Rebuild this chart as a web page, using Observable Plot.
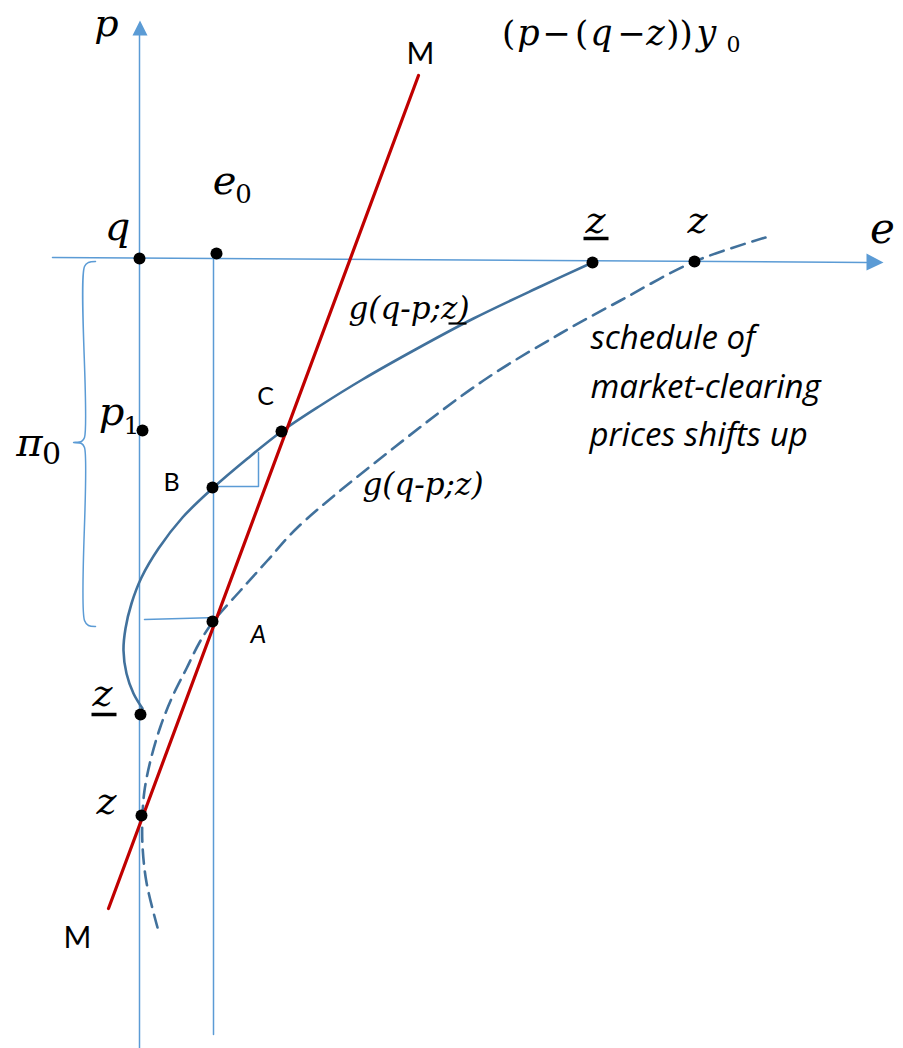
<!DOCTYPE html>
<html>
<head>
<meta charset="utf-8">
<script src="https://cdn.jsdelivr.net/npm/d3@7"></script>
<script src="https://cdn.jsdelivr.net/npm/@observablehq/plot@0.6"></script>
<style>
  body { margin: 0; background: #fff; }
</style>
</head>
<body>
<div id="chart"></div>
<script>
// Diagram space: e grows to the right, p grows down the page (screen-like units).

// Axes (p axis vertical, e axis horizontal) and the e0 guide
const pAxis = [{x: 139, y: 1048}, {x: 139, y: 35}];
const eAxis = [{x: 52, y: 257}, {x: 866, y: 262}];
const e0Guide = [{x: 213, y: 253}, {x: 213, y: 1034}];
const arrowHeads = [
  {id: "p", x: 139.5, y: 20}, {id: "p", x: 132, y: 35}, {id: "p", x: 147, y: 35},
  {id: "e", x: 883, y: 262}, {id: "e", x: 866, y: 253}, {id: "e", x: 866, y: 270}
];

// Market line M–M
const lineM = [{x: 108, y: 908}, {x: 418, y: 75}];

// Schedule g(q-p; z underlined): solid
const scheduleLow = [
  [592, 262], [540, 286], [473, 318], [415, 349], [362, 379], [320, 405],
  [281, 431], [247, 458], [213, 487], [182, 517], [158, 548], [141, 577],
  [131, 603], [125, 628], [123, 650], [126, 673], [133, 693], [142, 708]
];

// Schedule g(q-p; z): dashed
const scheduleHigh = [
  [765, 237], [694, 261], [620, 300], [560, 333], [483, 380], [395, 446],
  [297, 527], [267, 560], [240, 590], [212, 622], [199, 642], [186, 668],
  [172, 696], [160, 726], [150, 760], [144, 790], [142, 815], [142, 845],
  [146, 882], [157, 927]
];

// Thin guides: step from B, level of A, brace for π0
const stepB = [[213, 486], [258, 486], [258, 452]];
const levelA = [[144, 619], [217, 617]];
const brace = [
  [95, 261], [88, 262], [84, 266], [84, 437], [81, 441], [73, 442],
  [81, 443], [84, 447], [84, 620], [88, 625], [95, 626]
];

// Marked points
const points = [
  {name: "q", x: 139, y: 258}, {name: "e0", x: 216, y: 253},
  {name: "z_low", x: 592, y: 262}, {name: "z_high", x: 694, y: 261},
  {name: "p1", x: 142, y: 430}, {name: "C", x: 281, y: 431},
  {name: "B", x: 212, y: 487}, {name: "A", x: 212, y: 621},
  {name: "z_low_p", x: 140, y: 714}, {name: "z_high_p", x: 141, y: 815}
];

// Italic math symbols
const mathSymbols = [
  {t: "p", x: 106, y: 35, fs: 38},
  {t: "q", x: 117, y: 239, fs: 40},
  {t: "e", x: 224, y: 193, fs: 40},
  {t: "e", x: 882, y: 242, fs: 42},
  {t: "z", x: 595, y: 232, fs: 38},
  {t: "z", x: 697, y: 232, fs: 38},
  {t: "p", x: 111, y: 424, fs: 40},
  {t: "π", x: 29, y: 455, fs: 40},
  {t: "z", x: 102, y: 705, fs: 38},
  {t: "z", x: 106, y: 813, fs: 38}
];
// Upright subscripts
const subscripts = [
  {t: "0", x: 243, y: 202, fs: 26},
  {t: "1", x: 131, y: 433, fs: 25},
  {t: "0", x: 51, y: 463, fs: 30},
  {t: "0", x: 733, y: 51, fs: 22}
];
// Formula (p − (q − z))y0, set piece by piece
const formulaItalic = [
  {t: "p", x: 528}, {t: "q", x: 601}, {t: "z", x: 655}, {t: "y", x: 706}
];
const formulaUpright = [
  {t: "(", x: 508}, {t: "−", x: 556}, {t: "(", x: 581}, {t: "−", x: 631}, {t: "))", x: 679}
];
const formulaBaseline = 44;

// Schedule names
const gLabels = [
  {t: "g(q-p;z)", x: 348, y: 318},
  {t: "g(q-p;z)", x: 362, y: 494}
];
// Underlines under z
const underlines = [
  {x1: 583, x2: 608, y: 238, w: 3.5},
  {x1: 91, x2: 116, y: 714, w: 3.5},
  {x1: 448, x2: 466, y: 323, w: 2.2}
];
// Point and line names
const upright = [
  {t: "M", x: 420, y: 63, fs: 30},
  {t: "M", x: 77, y: 947, fs: 30},
  {t: "C", x: 265, y: 404, fs: 25},
  {t: "B", x: 171, y: 490, fs: 25}
];
const slanted = [{t: "A", x: 258, y: 642, fs: 25}];
const note = [
  {t: "schedule of", x: 590, y: 348},
  {t: "market-clearing", x: 590, y: 397},
  {t: "prices shifts up", x: 589, y: 445}
];

const toXY = (arr) => arr.map(([x, y]) => ({x, y}));
const AX = "#5B9BD5";
const CURVE = "#41719C";
const RED = "#C00000";
const SERIF = "DejaVu Serif";
const SANS = "Lato";
const NOTE = "Open Sans";

const chart = Plot.plot({
  width: 903,
  height: 1048,
  margin: 0,
  x: {domain: [0, 903], range: [0, 903], axis: null},
  y: {domain: [0, 1048], range: [0, 1048], axis: null},
  style: {background: "#fff"},
  marks: [
    Plot.line(pAxis, {x: "x", y: "y", stroke: AX, strokeWidth: 1.5}),
    Plot.line(eAxis, {x: "x", y: "y", stroke: AX, strokeWidth: 1.5}),
    Plot.line(e0Guide, {x: "x", y: "y", stroke: AX, strokeWidth: 1.5}),
    Plot.line(arrowHeads, {x: "x", y: "y", z: "id", fill: AX, stroke: "none"}),
    Plot.line(toXY(stepB), {x: "x", y: "y", stroke: AX, strokeWidth: 1.5}),
    Plot.line(toXY(levelA), {x: "x", y: "y", stroke: AX, strokeWidth: 1.5}),
    Plot.line(toXY(brace), {x: "x", y: "y", stroke: AX, strokeWidth: 1.5, curve: "catmull-rom"}),
    Plot.line(toXY(scheduleHigh), {x: "x", y: "y", stroke: CURVE, strokeWidth: 2.6, strokeDasharray: "14 8", curve: "catmull-rom"}),
    Plot.line(toXY(scheduleLow), {x: "x", y: "y", stroke: CURVE, strokeWidth: 2.6, curve: "catmull-rom"}),
    Plot.line(lineM, {x: "x", y: "y", stroke: RED, strokeWidth: 3.2}),
    Plot.dot(points, {x: "x", y: "y", r: 6, fill: "black", stroke: "none"}),
    Plot.link(underlines, {x1: "x1", x2: "x2", y1: "y", y2: "y", stroke: "black", strokeWidth: "w"}),
    Plot.text(mathSymbols, {x: "x", y: "y", text: "t", fontSize: "fs", fontFamily: SERIF, fontStyle: "italic", textAnchor: "middle", lineAnchor: "bottom", fill: "black"}),
    Plot.text(subscripts, {x: "x", y: "y", text: "t", fontSize: "fs", fontFamily: SERIF, textAnchor: "middle", lineAnchor: "bottom", fill: "black"}),
    Plot.text(formulaItalic, {x: "x", y: () => formulaBaseline, text: "t", fontSize: 35, fontFamily: SERIF, fontStyle: "italic", textAnchor: "middle", lineAnchor: "bottom", fill: "black"}),
    Plot.text(formulaUpright, {x: "x", y: () => formulaBaseline, text: "t", fontSize: 34, fontFamily: SERIF, textAnchor: "middle", lineAnchor: "bottom", fill: "black"}),
    Plot.text(gLabels, {x: "x", y: "y", text: "t", fontSize: 31, fontFamily: SERIF, fontStyle: "italic", textAnchor: "start", lineAnchor: "bottom", fill: "black"}),
    Plot.text(upright, {x: "x", y: "y", text: "t", fontSize: "fs", fontFamily: SANS, textAnchor: "middle", lineAnchor: "bottom", fill: "black"}),
    Plot.text(slanted, {x: "x", y: "y", text: "t", fontSize: "fs", fontFamily: SANS, fontStyle: "italic", textAnchor: "middle", lineAnchor: "bottom", fill: "black"}),
    Plot.text(note, {x: "x", y: "y", text: "t", fontSize: 33, fontFamily: NOTE, fontStyle: "italic", textAnchor: "start", lineAnchor: "bottom", fill: "black"})
  ]
});

document.getElementById("chart").appendChild(chart);
</script>
</body>
</html>
